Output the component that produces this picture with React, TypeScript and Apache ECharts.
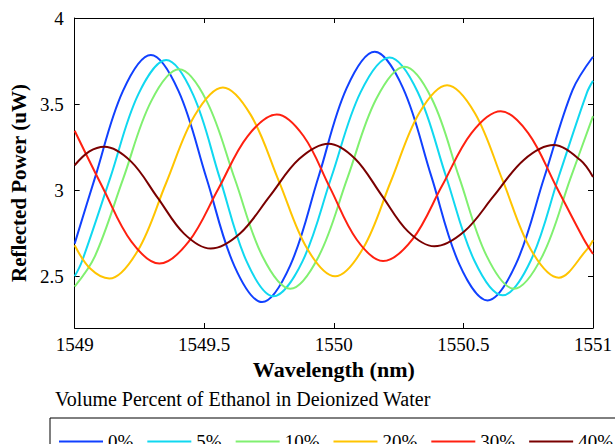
import React, { useEffect, useRef } from 'react';
import * as echarts from 'echarts';

const seriesNames = ['0%', '5%', '10%', '20%', '30%', '40%'];
const seriesColors = ['#1040ff', '#10d8f0', '#80f070', '#ffc400', '#ff2010', '#7a0000'];

const wavelength0 = [1549, 1549.078, 1549.186, 1549.294, 1549.401, 1549.509, 1549.616, 1549.723, 1549.832, 1549.941, 1550.049, 1550.158, 1550.267, 1550.376, 1550.484, 1550.593, 1550.702, 1550.812, 1550.921, 1551];
const power0 = [2.69, 3.07, 3.575, 3.785, 3.575, 3.068, 2.561, 2.351, 2.564, 3.078, 3.591, 3.804, 3.593, 3.082, 2.571, 2.36, 2.569, 3.075, 3.581, 3.775];

const wavelength5 = [1549, 1549.028, 1549.137, 1549.245, 1549.353, 1549.457, 1549.56, 1549.664, 1549.767, 1549.879, 1549.991, 1550.103, 1550.215, 1550.324, 1550.433, 1550.542, 1550.651, 1550.76, 1550.868, 1550.977, 1551];
const power5 = [2.5, 2.586, 3.07, 3.555, 3.756, 3.555, 3.07, 2.585, 2.384, 2.587, 3.078, 3.568, 3.771, 3.569, 3.08, 2.592, 2.39, 2.592, 3.08, 3.568, 3.635];

const wavelength10 = [1549, 1549.078, 1549.187, 1549.295, 1549.403, 1549.51, 1549.618, 1549.725, 1549.832, 1549.942, 1550.053, 1550.163, 1550.273, 1550.379, 1550.484, 1550.59, 1550.695, 1550.804, 1550.913, 1551];
const power10 = [2.44, 2.616, 3.066, 3.516, 3.702, 3.516, 3.065, 2.615, 2.428, 2.617, 3.073, 3.528, 3.717, 3.528, 3.073, 2.617, 2.428, 2.616, 3.069, 3.43];

const wavelength20 = [1549, 1549.06, 1549.134, 1549.244, 1549.353, 1549.463, 1549.572, 1549.68, 1549.789, 1549.897, 1550.005, 1550.113, 1550.221, 1550.329, 1550.437, 1550.545, 1550.653, 1550.76, 1550.868, 1550.976, 1551];
const power20 = [2.68, 2.545, 2.487, 2.65, 3.042, 3.434, 3.597, 3.436, 3.049, 2.661, 2.5, 2.663, 3.055, 3.447, 3.61, 3.446, 3.051, 2.656, 2.492, 2.655, 2.71];

const wavelength30 = [1549, 1549.111, 1549.219, 1549.327, 1549.44, 1549.554, 1549.667, 1549.78, 1549.883, 1549.985, 1550.088, 1550.19, 1550.304, 1550.417, 1550.531, 1550.644, 1550.75, 1550.857, 1550.964, 1551];
const power30 = [3.345, 3.007, 2.701, 2.574, 2.701, 3.007, 3.313, 3.44, 3.315, 3.015, 2.714, 2.589, 2.716, 3.024, 3.332, 3.459, 3.332, 3.025, 2.717, 2.63];

const wavelength40 = [1549, 1549.057, 1549.115, 1549.218, 1549.32, 1549.422, 1549.525, 1549.639, 1549.753, 1549.866, 1549.98, 1550.082, 1550.184, 1550.286, 1550.388, 1550.503, 1550.618, 1550.733, 1550.848, 1550.951, 1551];
const power40 = [3.145, 3.225, 3.252, 3.166, 2.957, 2.748, 2.661, 2.75, 2.966, 3.181, 3.27, 3.183, 2.972, 2.761, 2.674, 2.76, 2.968, 3.176, 3.262, 3.175, 3.077];

const yTickValues = [2.5, 3, 3.5, 4];

const xTitle = 'Wavelength (nm)';
const yTitle = 'Reflected Power (uW)';
const legendTitle = 'Volume Percent of Ethanol in Deionized Water';

const allWavelengths = [wavelength0, wavelength5, wavelength10, wavelength20, wavelength30, wavelength40];
const allPowers = [power0, power5, power10, power20, power30, power40];

const FONT = "'Liberation Serif', 'Times New Roman', serif";

export default function App() {
  const ref = useRef<HTMLDivElement>(null);
  useEffect(() => {
    if (!ref.current) return;
    const chart = echarts.init(ref.current, null, { renderer: 'svg' });
    const series = seriesNames.map((name, i) => ({
      name,
      type: 'line',
      data: allWavelengths[i].map((w, j) => [w, allPowers[i][j]]),
      symbol: 'none',
      showSymbol: false,
      smooth: 0.35,
      clip: true,
      lineStyle: { width: 2, color: seriesColors[i] },
      itemStyle: { color: seriesColors[i] },
      xAxisIndex: 0,
      yAxisIndex: 0,
    }));
    const axisLine = { show: true, lineStyle: { color: '#000', width: 1 } };
    chart.setOption({
      animation: false,
      backgroundColor: '#fff',
      grid: { left: 73, right: 20, top: 18, bottom: 116, containLabel: false },
      xAxis: [
        {
          type: 'value',
          min: 1549,
          max: 1551,
          interval: 0.5,
          position: 'bottom',
          axisLine,
          axisTick: { show: true, inside: true, length: 5, lineStyle: { color: '#000' } },
          axisLabel: { color: '#000', fontFamily: FONT, fontSize: 19, margin: 7, formatter: (v: number) => String(v) },
          splitLine: { show: false },
          name: xTitle,
          nameLocation: 'middle',
          nameGap: 25,
          nameTextStyle: { color: '#000', fontFamily: FONT, fontSize: 22, fontWeight: 'bold' },
        },
        {
          type: 'value',
          min: 1549,
          max: 1551,
          interval: 0.5,
          position: 'top',
          axisLine,
          axisTick: { show: true, inside: true, length: 5, lineStyle: { color: '#000' } },
          axisLabel: { show: false },
          splitLine: { show: false },
        },
      ],
      yAxis: [
        {
          type: 'value',
          min: 2.2,
          max: 4,
          position: 'left',
          axisLine,
          axisTick: { show: true, inside: true, length: 5, lineStyle: { color: '#000' }, customValues: yTickValues },
          axisLabel: { color: '#000', fontFamily: FONT, fontSize: 19, margin: 11, customValues: yTickValues },
          splitLine: { show: false },
          name: yTitle,
          nameLocation: 'middle',
          nameGap: 39,
          nameTextStyle: { color: '#000', fontFamily: FONT, fontSize: 21, fontWeight: 'bold', padding: [0, 20, 0, 0] },
        },
        {
          type: 'value',
          min: 2.2,
          max: 4,
          position: 'right',
          axisLine,
          axisTick: { show: true, inside: true, length: 5, lineStyle: { color: '#000' }, customValues: yTickValues },
          axisLabel: { show: false, customValues: yTickValues },
          splitLine: { show: false },
        },
      ],
      legend: {
        data: seriesNames,
        orient: 'horizontal',
        left: 50,
        top: 418,
        width: 640,
        padding: [14, 8, 8, 9],
        icon: 'rect',
        itemWidth: 44,
        itemHeight: 2,
        itemGap: 14,
        borderColor: '#000',
        borderWidth: 1,
        textStyle: { color: '#000', fontFamily: FONT, fontSize: 19 },
      },
      graphic: [
        {
          type: 'text',
          left: 55,
          top: 389,
          style: { text: legendTitle, fill: '#000', font: `20px ${FONT}` },
        },
      ],
      series,
    });
    return () => chart.dispose();
  }, []);
  return <div ref={ref} style={{ position: 'absolute', left: 0, top: 0, width: 615, height: 444 }} />;
}
